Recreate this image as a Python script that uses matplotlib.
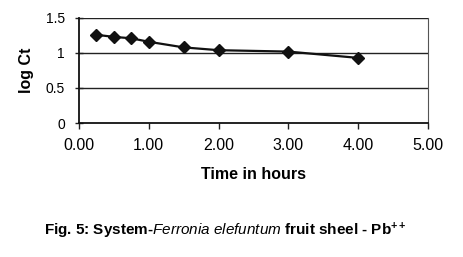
import numpy as np
from matplotlib import pyplot as plt

plt.rcParams['font.family'] = ['Liberation Sans', 'DejaVu Sans']
plt.rcParams['mathtext.fontset'] = 'custom'
plt.rcParams['mathtext.rm'] = 'Liberation Sans:bold'
plt.rcParams['mathtext.it'] = 'Liberation Sans:italic'
plt.rcParams['mathtext.bf'] = 'Liberation Sans:bold'

time_h = [0.25, 0.5, 0.75, 1.0, 1.5, 2.0, 3.0, 4.0]
log_ct = [1.26, 1.23, 1.21, 1.16, 1.08, 1.04, 1.02, 0.93]
x_ticks = [0, 1, 2, 3, 4, 5]
y_ticks = [0, 0.5, 1, 1.5]

fig = plt.figure(figsize=(4.63, 2.57), dpi=100)
ax = fig.add_axes([0.1706, 0.5214, 0.7538, 0.4086])

for y in y_ticks[1:]:
    ax.axhline(y, color='#222222', lw=1.0, zorder=1)

ax.plot(time_h, log_ct, color='#111111', lw=1.6, marker='D', ms=6.5, zorder=3)

ax.set_xlim(0, 5)
ax.set_ylim(0, 1.5)
ax.set_xticks(x_ticks)
ax.set_xticklabels([f'{v:.2f}' for v in x_ticks])
ax.set_yticks(y_ticks)
ax.set_yticklabels(['0', '0.5', '1', '1.5'])
ax.tick_params(axis='x', labelsize=11.5, color='#222222', length=4, width=1, pad=7)
ax.tick_params(axis='y', labelsize=10, color='#222222', length=6, width=1,
               direction='inout', pad=7)
for s in ['left', 'bottom']:
    ax.spines[s].set_linewidth(1.3)
    ax.spines[s].set_color('#111111')
ax.spines['right'].set_color('#555555')
ax.spines['right'].set_linewidth(0.8)
ax.spines['top'].set_visible(False)

ax.set_xlabel('Time in hours', fontsize=11.5, fontweight='bold', labelpad=10)
ax.set_ylabel('log Ct', fontsize=11.5, fontweight='bold')
ax.yaxis.set_label_coords(-0.13, 0.5)

fig.text(0.487, 0.101,
         r'Fig. 5: System-$\mathit{Ferronia\ elefuntum}$ fruit sheel - Pb$^{++}$',
         fontsize=11, fontweight='bold', ha='center', va='center')

fig.savefig('out.png', dpi=100)
